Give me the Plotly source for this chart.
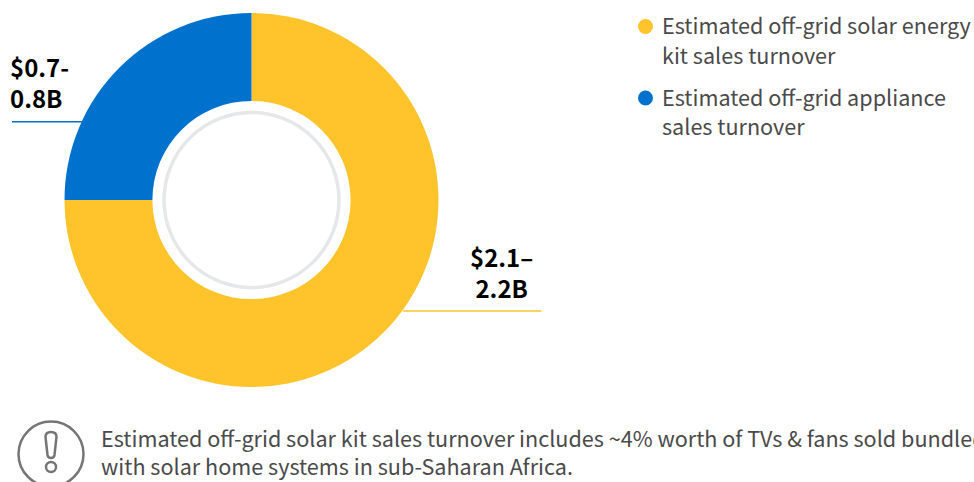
import plotly.graph_objects as go

W, H = 974, 482
segments = ["Estimated off-grid solar energy kit sales turnover", "Estimated off-grid appliance sales turnover"]
shares = [75, 25]
colors = ["#FFC42C", "#0072CE"]
value_labels = ["$2.1–<br>2.2B", "$0.7-<br>0.8B"]
legend_lines = ["Estimated off-grid solar energy", "kit sales turnover", "Estimated off-grid appliance", "sales turnover"]
note = "Estimated off-grid solar kit sales turnover includes ~4% worth of TVs &amp; fans sold bundled<br>with solar home systems in sub-Saharan Africa."
FONT = "Noto Sans CJK SC"
TXT = "#4A4A4A"

px = lambda x: x / W
py = lambda y: 1 - y / H

cx, cy, R = 251.5, 200, 187

fig = go.Figure(go.Pie(
    labels=segments, values=shares, sort=False, direction="clockwise", rotation=0,
    hole=0.53, marker=dict(colors=colors, line=dict(width=0)), textinfo="none",
    hoverinfo="label+percent", showlegend=False,
    domain=dict(x=[px(cx - R), px(cx + R)], y=[py(cy + R), py(cy - R)]),
))

def circle(x, y, r, **kw):
    return dict(type="circle", xref="paper", yref="paper",
                x0=px(x - r), x1=px(x + r), y0=py(y + r), y1=py(y - r), **kw)

def hline(x0, x1, y, color):
    return dict(type="rect", xref="paper", yref="paper", x0=px(x0), x1=px(x1),
                y0=py(y + 1.5), y1=py(y), line=dict(width=0), fillcolor=color)

def path(points):
    return " ".join(f"{c}{px(x):.5f},{py(y):.5f}" if c != "Q" else
                    f"Q{px(x[0]):.5f},{py(x[1]):.5f} {px(y[0]):.5f},{py(y[1]):.5f}"
                    for c, x, y in points) + " Z"

bar = path([("M", 45.5, 437), ("Q", (45.5, 432), (51, 432)), ("Q", (56.5, 432), (56.5, 437)),
            ("L", 54.5, 455), ("Q", (54, 458), (51, 458)), ("Q", (48, 458), (47.5, 455))])

shapes = [
    circle(cx, cy, 87.5, line=dict(color="#E6E7E8", width=3.5), fillcolor="rgba(0,0,0,0)"),
    hline(403, 541.5, 310.2, colors[0]),
    hline(12, 84, 120.9, colors[1]),
    circle(638 + 7.5, 26.5, 7.5, line=dict(width=0), fillcolor=colors[0]),
    circle(638 + 7.5, 98, 7.5, line=dict(width=0), fillcolor=colors[1]),
    circle(51, 454, 32.5, line=dict(color="#757575", width=2.5), fillcolor="rgba(0,0,0,0)"),
    dict(type="path", xref="paper", yref="paper", path=bar, line=dict(color="#757575", width=2.5), fillcolor="rgba(0,0,0,0)"),
    circle(51, 467, 5, line=dict(color="#757575", width=2.5), fillcolor="rgba(0,0,0,0)"),
]

def text(x, y, t, size, color, anchor="left", bold=False):
    return dict(xref="paper", yref="paper", x=px(x), y=py(y), text=f"<b>{t}</b>" if bold else t,
                showarrow=False, xanchor=anchor, yanchor="middle", align=anchor,
                font=dict(family=FONT, size=size, color=color))

legend_y = [24, 54, 97, 126]
annotations = [
    text(501.5, 271.5, value_labels[0], 24, "#000000", "center", True),
    text(8, 81.5, value_labels[1], 24, "#000000", "left", True),
    text(99, 451.5, note, 21.6, TXT),
] + [text(660, y, t, 21.6, TXT) for y, t in zip(legend_y, legend_lines)]

fig.update_layout(width=W, height=H, margin=dict(l=0, r=0, t=0, b=0), autosize=False,
                  paper_bgcolor="white", plot_bgcolor="white", shapes=shapes, annotations=annotations,
                  font=dict(family=FONT))
fig.write_html("out.html", config=dict(displayModeBar=False),
               post_script="document.body.style.margin='0';document.body.style.overflow='hidden';")
